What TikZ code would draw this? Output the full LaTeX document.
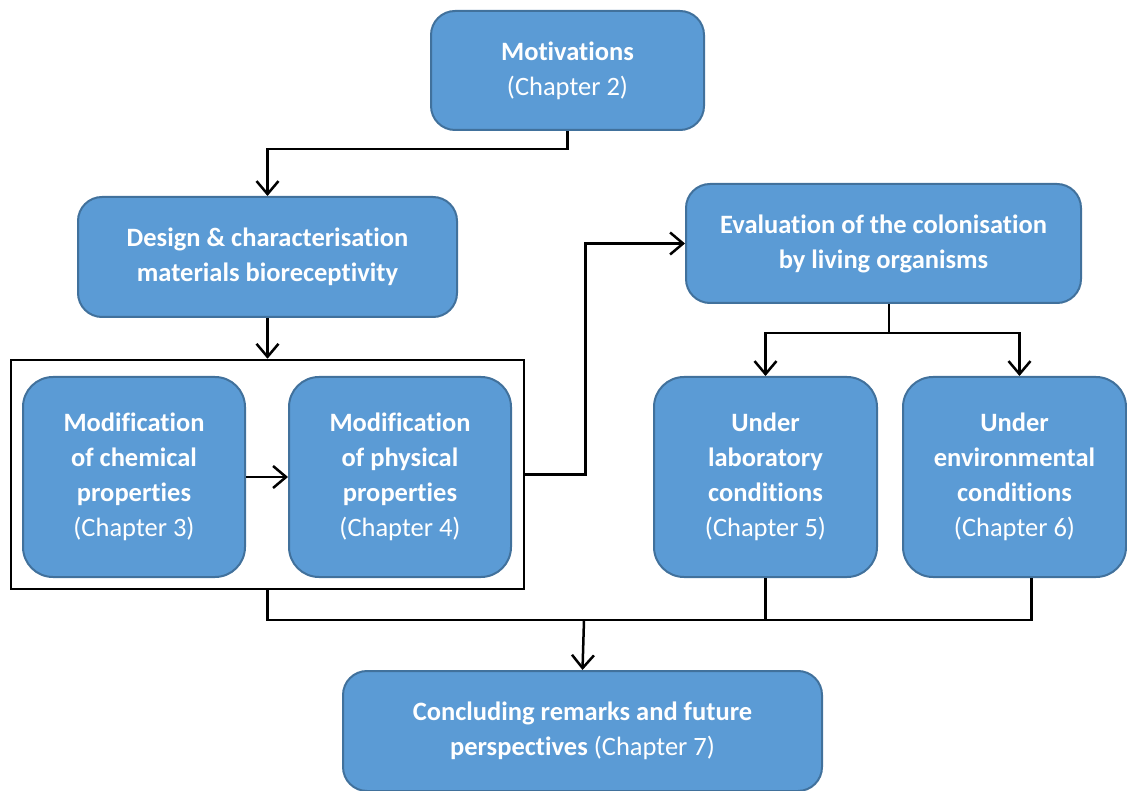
\documentclass[tikz,border=0pt]{standalone}
\usepackage{fontspec}
\setmainfont{Carlito}[Ligatures=NoCommon]
\usetikzlibrary{arrows.meta}
\definecolor{boxfill}{HTML}{5B9BD5}
\definecolor{boxline}{HTML}{41719C}
\tikzset{
 box/.style={draw=boxline, line width=2pt, fill=boxfill, rounded corners=24pt, text=white,
  align=center, inner sep=0pt, font=\fontsize{26.5}{35}\selectfont},
 link/.style={line width=2.5pt, black},
 arr/.style={link, -{Straight Barb[length=13pt, width=22pt, line width=2.5pt]}}
}
\begin{document}
\begin{tikzpicture}[x=1pt,y=-1pt]
 \useasboundingbox (0,0) rectangle (1127,791);
 \node[box, minimum width=273, minimum height=119] (motiv) at (567.5,70.5) {\textbf{Motivations}\\(Chapter 2)};
 \node[box, minimum width=379, minimum height=120] (design) at (267.5,257) {\textbf{Design \& characterisation}\\\textbf{materials bioreceptivity}};
 \node[draw, line width=2.5pt, minimum width=513, minimum height=229] (frame) at (267.5,474.5) {};
 \node[box, minimum width=222, minimum height=200, rounded corners=30pt] (chem) at (134,477) {\textbf{Modification}\\\textbf{of chemical}\\\textbf{properties}\\(Chapter 3)};
 \node[box, minimum width=222, minimum height=200, rounded corners=30pt] (phys) at (400,477) {\textbf{Modification}\\\textbf{of physical}\\\textbf{properties}\\(Chapter 4)};
 \node[box, minimum width=395, minimum height=119] (eval) at (883.5,243.5) {\textbf{Evaluation of the colonisation}\\\textbf{by living organisms}};
 \node[box, minimum width=223, minimum height=200, rounded corners=30pt] (lab) at (765.5,477) {\textbf{Under}\\\textbf{laboratory}\\\textbf{conditions}\\(Chapter 5)};
 \node[box, minimum width=223, minimum height=200, rounded corners=30pt] (env) at (1014.5,477) {\textbf{Under}\\\textbf{environmental}\\\textbf{conditions}\\(Chapter 6)};
 \node[box, minimum width=479, minimum height=120] (concl) at (582.5,731) {\textbf{Concluding remarks and future}\\\textbf{perspectives} (Chapter 7)};
 \coordinate (split) at (889,333);
 \coordinate (merge) at (584,620);
 \coordinate (envin) at ([xshift=5pt]env.north);
 \coordinate (envout) at ([xshift=17pt]env.south);
 \draw[arr] (motiv.south) -- ++(0,18) -| (design.north);
 \draw[arr] (design.south) -- (design.south |- frame.north);
 \draw[arr] (chem) -- (phys);
 \draw[arr] (frame.east) -- ++(60,0) |- (eval.west);
 \draw[link] (eval.south -| split) -- (split);
 \draw[arr] (split) -| (lab.north);
 \draw[arr] (split) -| (envin);
 \draw[link] (frame.south) -- (frame.south |- merge) -- (merge -| envout) -- (envout);
 \draw[link] (lab.south) -- (lab.south |- merge);
 \draw[arr] (merge) -- (concl.north);
\end{tikzpicture}
\end{document}
